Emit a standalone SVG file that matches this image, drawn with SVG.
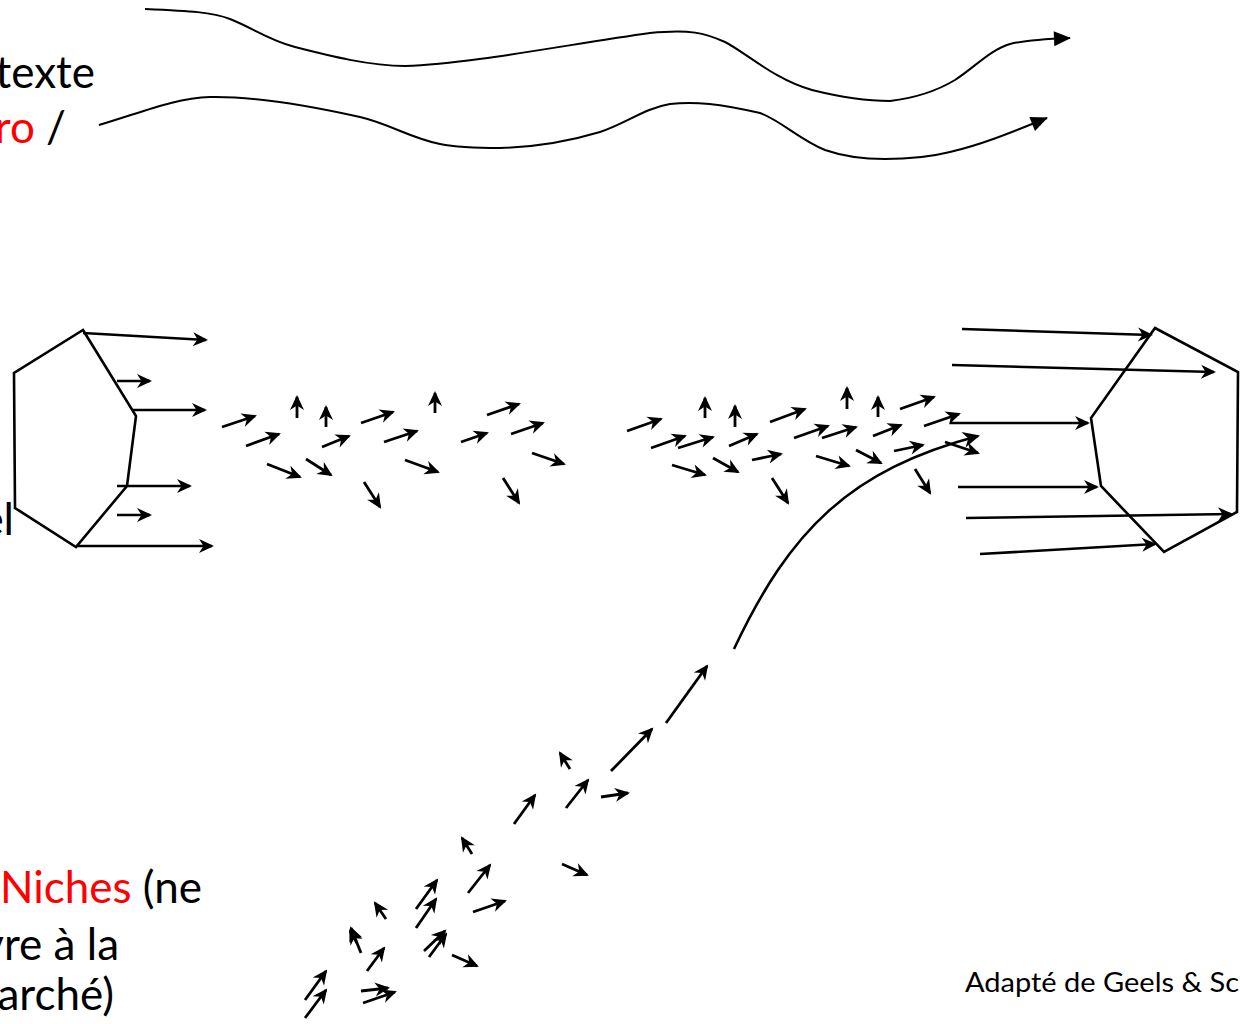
<svg xmlns="http://www.w3.org/2000/svg" width="1240" height="1024" viewBox="0 0 1240 1024">
<style>
.t{font-family:Lato,"Open Sans","Liberation Sans",sans-serif;font-size:44px;fill:#000}
.red{fill:#ff0000}
.src{font-family:Lato,"Open Sans","Liberation Sans",sans-serif;font-size:26px;fill:#000}
.hex{fill:#fff;stroke:#000;stroke-width:2.6;stroke-linejoin:miter}
.big{stroke:#000;stroke-width:2.6;fill:none;marker-end:url(#ah)}
.sm{stroke:#000;stroke-width:2.8;fill:none;marker-end:url(#ah)}
.ctx{stroke:#000;stroke-width:2;fill:none;marker-end:url(#tri)}
.tr{stroke:#000;stroke-width:2.6;fill:none;marker-end:url(#ah2)}
</style>
<defs>
<marker id="ah" markerUnits="userSpaceOnUse" viewBox="-16 -9 20 18" markerWidth="20" markerHeight="18" refX="0" refY="0" orient="auto" overflow="visible"><path d="M2,0 L-13,-7 L-8.5,0 L-13,7 Z" fill="#000"/></marker>
<marker id="ah2" markerUnits="userSpaceOnUse" viewBox="-18 -9 22 18" markerWidth="22" markerHeight="18" refX="0" refY="0" orient="auto" overflow="visible"><path d="M2,0 L-15,-8 L-10,0 L-15,8 Z" fill="#000"/></marker>
<marker id="tri" markerUnits="userSpaceOnUse" viewBox="-18 -9 20 18" markerWidth="20" markerHeight="18" refX="0" refY="0" orient="auto" overflow="visible"><path d="M1,0 L-16,-7.5 L-16,7.5 Z" fill="#000"/></marker>
</defs>

<g id="texts">
<text class="t" x="95" y="88" text-anchor="end">texte</text>
<text class="t" x="66" y="143" text-anchor="end"><tspan class="red">ro</tspan> /</text>
<text class="t" x="14" y="535" text-anchor="end">el</text>
<text class="t" x="202" y="903" text-anchor="end"><tspan class="red">Niches</tspan> (ne</text>
<text class="t" x="119" y="960" text-anchor="end">vre à la</text>
<text class="t" x="114" y="1010" text-anchor="end">arché)</text>
<text class="src" x="965" y="992" textLength="274" lengthAdjust="spacingAndGlyphs">Adapté de Geels &amp; Sc</text>
</g>

<g id="regime-left"><polygon class="hex" points="83,330 136,416 127,486 76,547 15,508 14,373"/></g>
<g id="regime-right"><polygon class="hex" points="1155,328 1238,372 1237,512 1164,552 1101,486 1091,418"/></g>

<g id="connectors">
<path class="ctx" d="M145,9 C190,11 212,12 230,19 C255,29 268,40 295,47 C330,56 370,66 405,66 C470,64 570,44 650,33 C690,29 705,33 725,42 C745,52 775,80 812,90 C840,97 870,101 890,101 C915,98 935,92 955,80 C975,67 990,50 1010,44 C1025,40 1045,39 1070,38"/>
<path class="ctx" d="M99,125 C140,113 175,98 210,97 C260,96 320,108 360,117 C390,124 410,138 440,144 C460,148 480,148 500,148 C540,147 570,141 600,132 C625,124 645,108 670,104 C695,101 720,104 760,113 C780,120 800,140 825,150 C845,157 865,159 885,159 C905,159 930,157 950,152 C980,145 1005,135 1047,118"/>

<line class="big" x1="83" y1="333" x2="206" y2="340"/>
<line class="big" x1="117" y1="381" x2="150" y2="381"/>
<line class="big" x1="133" y1="410" x2="205" y2="410"/>
<line class="big" x1="117" y1="486" x2="190" y2="486"/>
<line class="big" x1="117" y1="515" x2="150" y2="515"/>
<line class="big" x1="76" y1="546" x2="212" y2="546"/>

<line class="big" x1="962" y1="329" x2="1151" y2="335"/>
<line class="big" x1="952" y1="365" x2="1214" y2="372"/>
<line class="big" x1="950" y1="423" x2="1088" y2="423"/>
<line class="big" x1="958" y1="487" x2="1097" y2="487"/>
<line class="big" x1="966" y1="518" x2="1231" y2="514"/>
<line class="big" x1="980" y1="554" x2="1155" y2="544"/>

<line class="sm" x1="222" y1="427" x2="255" y2="416"/>
<line class="sm" x1="246" y1="446" x2="279" y2="434"/>
<line class="sm" x1="297" y1="418" x2="297" y2="397"/>
<line class="sm" x1="326" y1="427" x2="326" y2="407"/>
<line class="sm" x1="322" y1="447" x2="349" y2="436"/>
<line class="sm" x1="267" y1="464" x2="300" y2="477"/>
<line class="sm" x1="306" y1="459" x2="331" y2="475"/>
<line class="sm" x1="361" y1="423" x2="393" y2="412"/>
<line class="sm" x1="384" y1="442" x2="417" y2="431"/>
<line class="sm" x1="435" y1="413" x2="435" y2="393"/>
<line class="sm" x1="405" y1="460" x2="438" y2="472"/>
<line class="sm" x1="364" y1="482" x2="380" y2="507"/>
<line class="sm" x1="487" y1="415" x2="519" y2="404"/>
<line class="sm" x1="461" y1="442" x2="487" y2="433"/>
<line class="sm" x1="511" y1="434" x2="543" y2="423"/>
<line class="sm" x1="532" y1="453" x2="564" y2="464"/>
<line class="sm" x1="503" y1="478" x2="519" y2="503"/>

<line class="sm" x1="627" y1="431" x2="661" y2="419"/>
<line class="sm" x1="651" y1="448" x2="685" y2="436"/>
<line class="sm" x1="678" y1="448" x2="713" y2="437"/>
<line class="sm" x1="705" y1="418" x2="705" y2="398"/>
<line class="sm" x1="735" y1="427" x2="735" y2="406"/>
<line class="sm" x1="729" y1="446" x2="757" y2="434"/>
<line class="sm" x1="770" y1="422" x2="805" y2="409"/>
<line class="sm" x1="672" y1="465" x2="705" y2="475"/>
<line class="sm" x1="713" y1="458" x2="738" y2="472"/>
<line class="sm" x1="752" y1="460" x2="781" y2="454"/>
<line class="sm" x1="772" y1="478" x2="788" y2="503"/>
<line class="sm" x1="847" y1="409" x2="847" y2="388"/>
<line class="sm" x1="878" y1="417" x2="878" y2="397"/>
<line class="sm" x1="794" y1="438" x2="828" y2="426"/>
<line class="sm" x1="822" y1="438" x2="856" y2="427"/>
<line class="sm" x1="900" y1="409" x2="934" y2="397"/>
<line class="sm" x1="873" y1="436" x2="901" y2="425"/>
<line class="sm" x1="924" y1="426" x2="959" y2="414"/>
<line class="sm" x1="816" y1="456" x2="849" y2="466"/>
<line class="sm" x1="856" y1="450" x2="881" y2="463"/>
<line class="sm" x1="894" y1="451" x2="923" y2="445"/>
<line class="sm" x1="915" y1="469" x2="930" y2="493"/>
<line class="sm" x1="945" y1="442" x2="978" y2="453"/>

<path class="tr" d="M734,649 C790,530 850,470 978,436"/>

<line class="sm" x1="611" y1="771" x2="652" y2="729"/>
<line class="sm" x1="666" y1="723" x2="707" y2="666"/>
<line class="sm" x1="570" y1="769" x2="560" y2="753"/>
<line class="sm" x1="566" y1="808" x2="588" y2="780"/>
<line class="sm" x1="601" y1="797" x2="628" y2="793"/>
<line class="sm" x1="514" y1="824" x2="535" y2="795"/>
<line class="sm" x1="562" y1="864" x2="587" y2="875"/>
<line class="sm" x1="472" y1="854" x2="462" y2="838"/>
<line class="sm" x1="468" y1="893" x2="490" y2="865"/>
<line class="sm" x1="473" y1="912" x2="505" y2="901"/>
<line class="sm" x1="416" y1="909" x2="437" y2="880"/>
<line class="sm" x1="416" y1="928" x2="436" y2="899"/>
<line class="sm" x1="424" y1="951" x2="445" y2="931"/>
<line class="sm" x1="429" y1="957" x2="446" y2="934"/>
<line class="sm" x1="452" y1="955" x2="477" y2="966"/>
<line class="sm" x1="386" y1="919" x2="375" y2="903"/>
<line class="sm" x1="361" y1="953" x2="351" y2="928"/>
<line class="sm" x1="357" y1="943" x2="350" y2="931"/>
<line class="sm" x1="367" y1="971" x2="384" y2="948"/>
<line class="sm" x1="305" y1="1000" x2="326" y2="971"/>
<line class="sm" x1="305" y1="1018" x2="326" y2="990"/>
<line class="sm" x1="361" y1="991" x2="388" y2="988"/>
<line class="sm" x1="363" y1="1003" x2="395" y2="992"/>
</g>
</svg>
